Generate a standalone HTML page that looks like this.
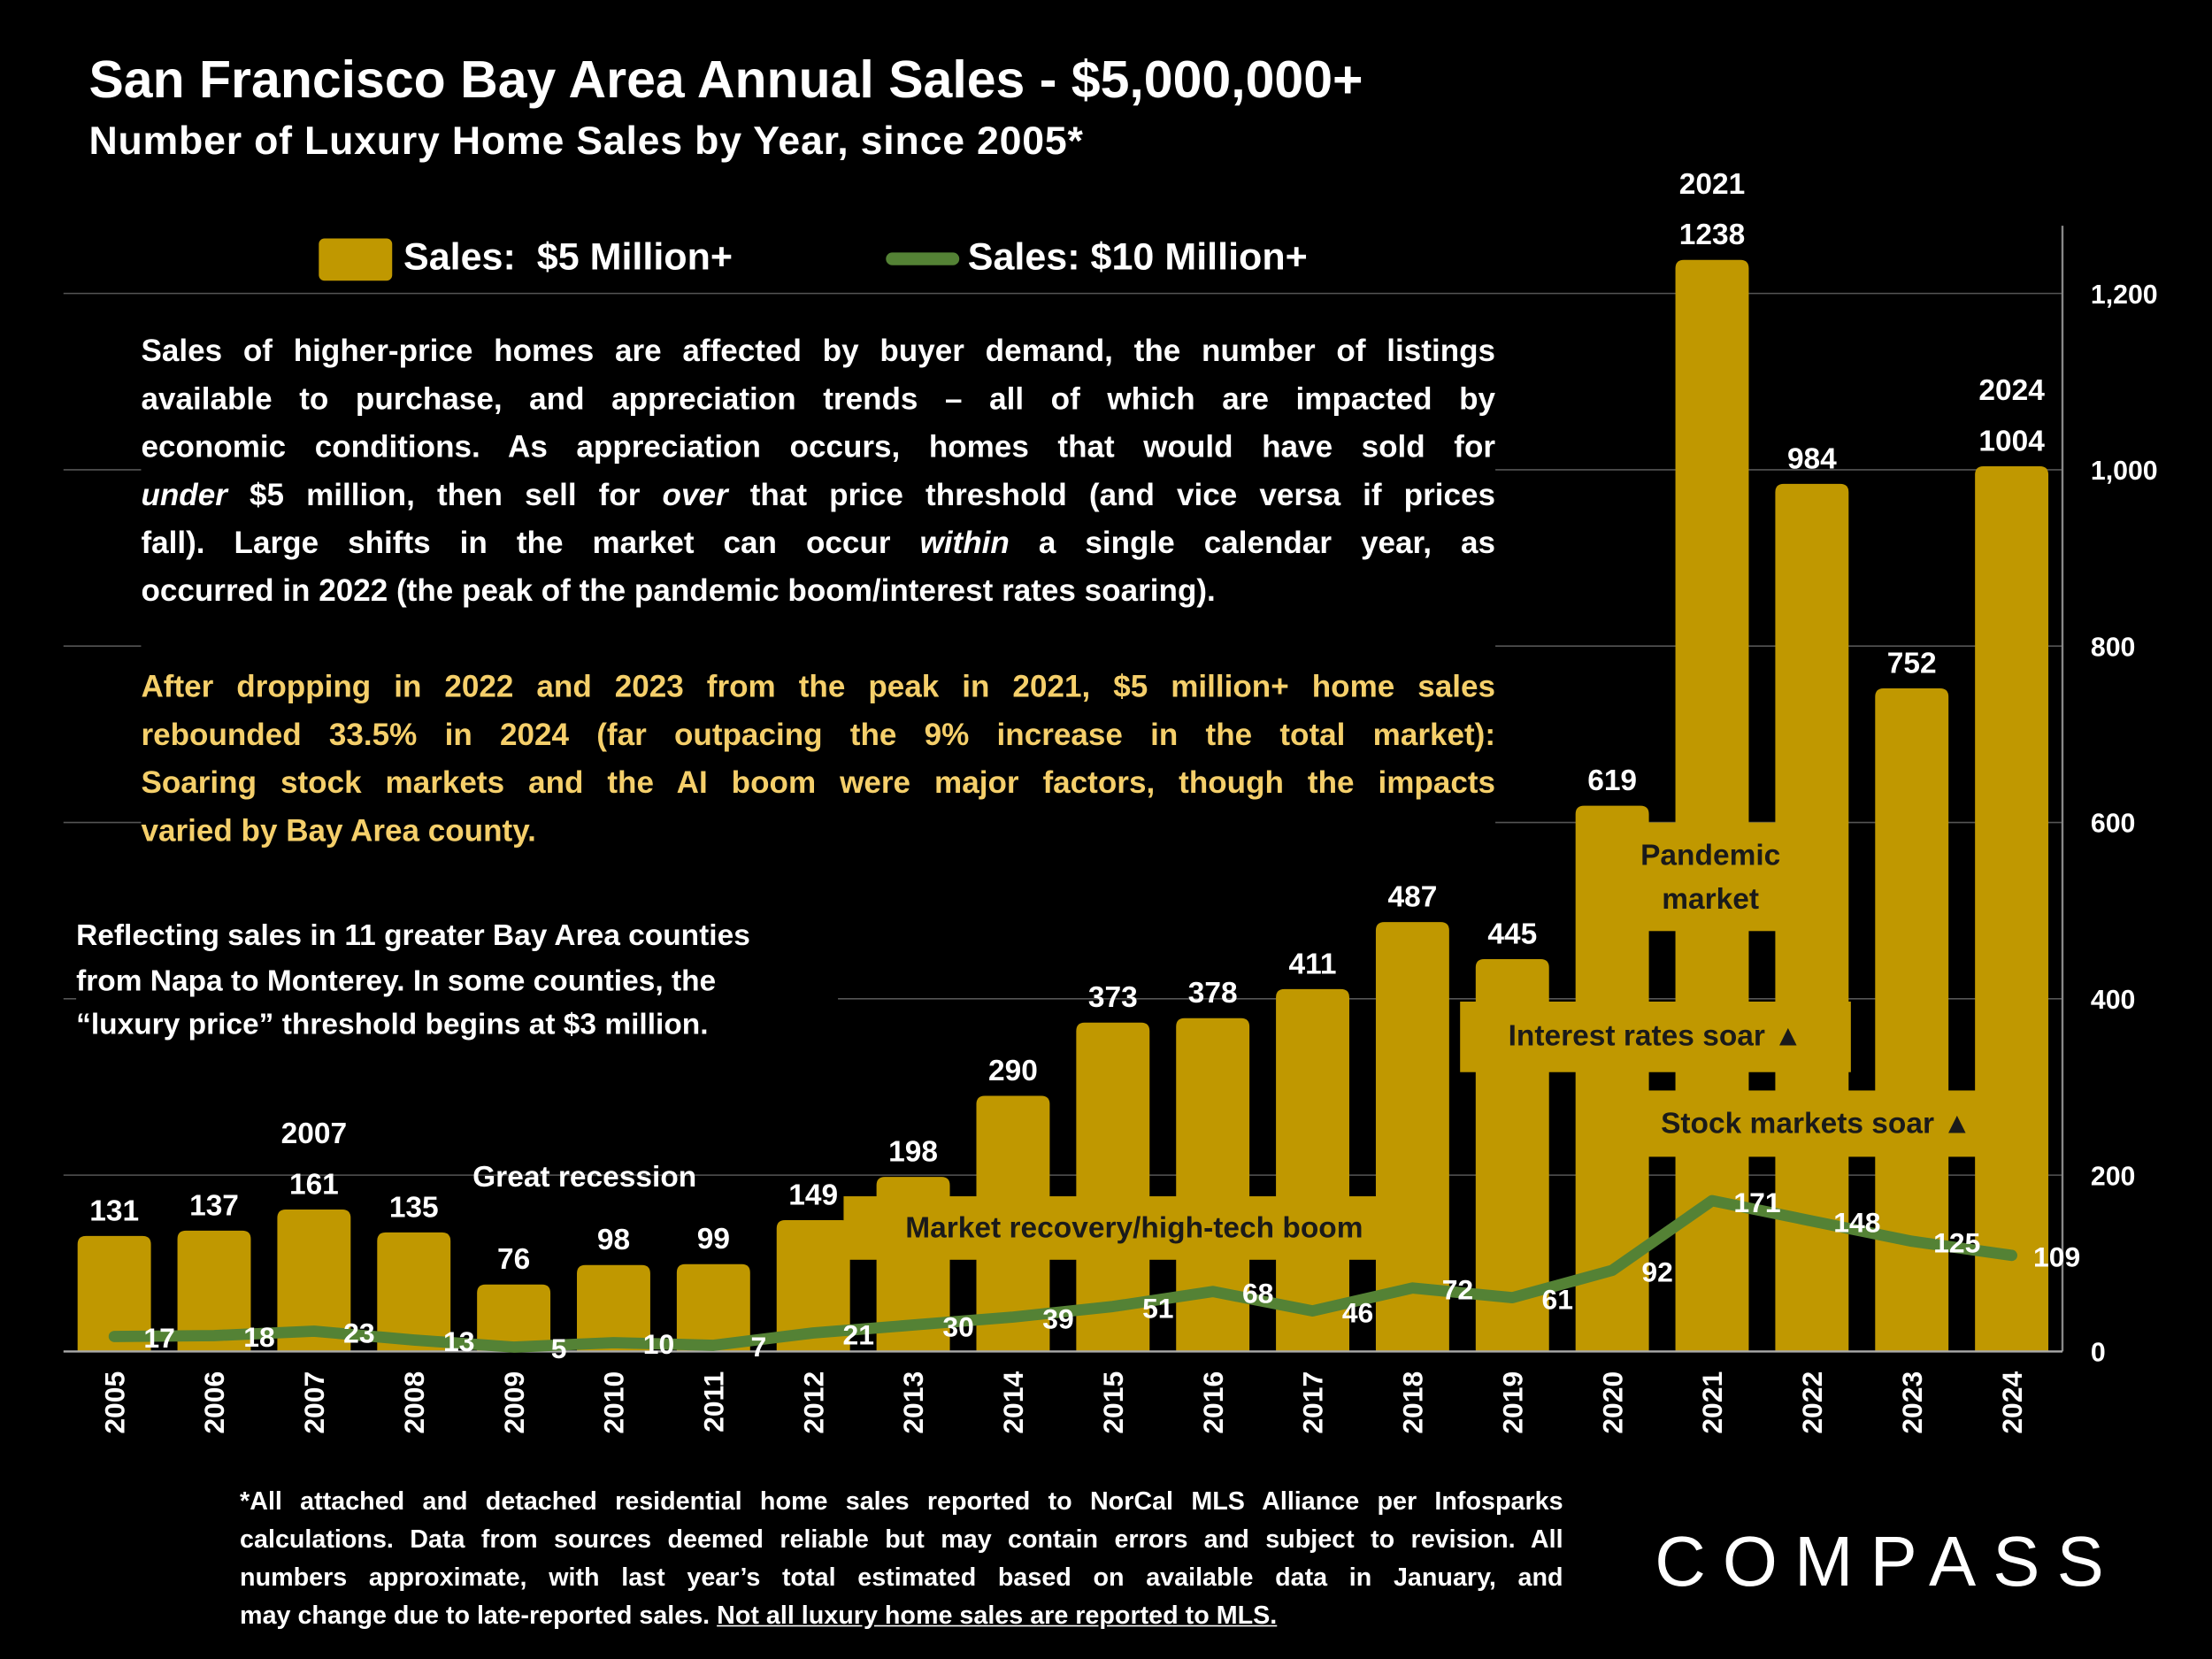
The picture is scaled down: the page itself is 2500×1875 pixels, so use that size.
<!DOCTYPE html>
<html><head><meta charset="utf-8"><style>
html,body{margin:0;padding:0;background:#000;overflow:hidden}
#wrap{position:absolute;left:0;top:0;width:1568px;height:1176px;transform:scale(1.594388);transform-origin:0 0;font-family:"Liberation Sans",sans-serif;color:#fff}
.t{position:absolute;font-weight:bold;white-space:nowrap}
.para{position:absolute;left:100px;width:960px;font-size:22px;line-height:34px;font-weight:bold;background:#000}
.para div,.fn div{text-align:justify;text-align-last:justify;white-space:nowrap;overflow:hidden}
.para div.l,.fn div.l{text-align-last:left}
.fn{position:absolute;left:170px;top:1051px;width:938px;font-size:18px;line-height:27px;font-weight:bold}
.box{position:absolute;background:#C09800;color:#1a1a1a;font-weight:bold;font-size:21px;text-align:center}
</style></head><body>
<div id="wrap">
<svg id="chart" width="1568" height="1176" style="position:absolute;left:0;top:0"></svg>
<div class="t" style="left:63px;top:36px;font-size:37px">San Francisco Bay Area Annual Sales - $5,000,000+</div>
<div class="t" style="left:63px;top:84px;font-size:28px;letter-spacing:0.5px">Number of Luxury Home Sales by Year, since 2005*</div>
<div>
<div style="position:absolute;left:226px;top:169px;width:52px;height:30px;background:#C09800;border-radius:4px"></div>
<div class="t" style="left:286px;top:167px;font-size:27px">Sales:&nbsp; $5 Million+</div>
<div style="position:absolute;left:628px;top:179px;width:52px;height:9px;background:#548235;border-radius:5px"></div>
<div class="t" style="left:686px;top:167px;font-size:27px">Sales: $10 Million+</div>
</div>
<div class="para" style="top:232px;height:374px">
<div>Sales of higher-price homes are affected by buyer demand, the number of listings</div>
<div>available to purchase, and appreciation trends – all of which are impacted by</div>
<div>economic conditions. As appreciation occurs, homes that would have sold for</div>
<div><i>under</i> $5 million, then sell for <i>over</i> that price threshold (and vice versa if prices</div>
<div>fall). Large shifts in the market can occur <i>within</i> a single calendar year, as</div>
<div class="l">occurred in 2022 (the peak of the pandemic boom/interest rates soaring).</div>
<div style="height:34px"></div>
<div style="color:#F5CF6A">After dropping in 2022 and 2023 from the peak in 2021, $5 million+ home sales</div>
<div style="color:#F5CF6A">rebounded 33.5% in 2024 (far outpacing the 9% increase in the total market):</div>
<div style="color:#F5CF6A">Soaring stock markets and the AI boom were major factors, though the impacts</div>
<div class="l" style="color:#F5CF6A">varied by Bay Area county.</div>
</div>
<div style="position:absolute;left:54px;top:648px;width:540px;font-size:21px;line-height:31.5px;font-weight:bold;background:#000">Reflecting sales in 11 greater Bay Area counties<br>from Napa to Monterey. In some counties, the<br>“luxury price” threshold begins at $3 million.</div>
<div class="box" style="left:598px;top:848px;width:412px;height:45px;line-height:45px">Market recovery/high-tech boom</div>
<div class="box" style="left:1135px;top:583px;width:155px;height:77px;line-height:31px;padding-top:8px;box-sizing:border-box">Pandemic<br>market</div>
<div class="box" style="left:1035px;top:710px;width:277px;height:50px;line-height:50px">Interest rates soar ▲</div>
<div class="box" style="left:1160px;top:773px;width:255px;height:47px;line-height:47px">Stock markets soar ▲</div>
<div class="t" style="left:335px;top:823px;font-size:21px">Great recession</div>
<div class="fn">
<div>*All attached and detached residential home sales reported to NorCal MLS Alliance per Infosparks</div>
<div>calculations. Data from sources deemed reliable but may contain errors and subject to revision. All</div>
<div>numbers approximate, with last year’s total estimated based on available data in January, and</div>
<div class="l">may change due to late-reported sales. <u>Not all luxury home sales are reported to MLS.</u></div>
</div>
<div class="t" style="left:1173px;top:1078px;font-size:50px;font-weight:normal;letter-spacing:12px">COMPASS</div>
</div>
<script>
const years=["2005","2006","2007","2008","2009","2010","2011","2012","2013","2014","2015","2016","2017","2018","2019","2020","2021","2022","2023","2024"];
const sales5m=[131,137,161,135,76,98,99,149,198,290,373,378,411,487,445,619,1238,984,752,1004];
const sales10m=[17,18,23,13,5,10,7,21,30,39,51,68,46,72,61,92,171,148,125,109];
const yTicks=[0,200,400,600,800,1000,1200];
const yTickLabels=["0","200","400","600","800","1,000","1,200"];
const NS="http://www.w3.org/2000/svg";
const svg=document.getElementById('chart');
const y0=958,pxPer=0.625,x0=81,step=(1426-81)/19,bw=52;
const yS=v=>y0-v*pxPer, xS=i=>x0+i*step;
function mk(tag,attrs){const e=document.createElementNS(NS,tag);for(const k in attrs)e.setAttribute(k,attrs[k]);svg.appendChild(e);return e;}
yTicks.forEach((v,i)=>{
 if(v>0){const g=mk('line',{x1:45,x2:1462,y1:yS(v),y2:yS(v),stroke:'#555','stroke-width':1});
 
 }
 const t=mk('text',{x:1482,y:yS(v)+7,fill:'#fff','font-size':19,'font-weight':'bold','font-family':'Liberation Sans'});
 t.textContent=yTickLabels[i];
 
 
});
const ax=mk('line',{x1:1462,x2:1462,y1:160,y2:y0,stroke:'#888','stroke-width':1.5});


years.forEach((yr,i)=>{
 const x=xS(i),top=yS(sales5m[i]);
 const r=6;
 const p=mk('path',{d:`M${x-bw/2},${y0}V${top+r}Q${x-bw/2},${top} ${x-bw/2+r},${top}H${x+bw/2-r}Q${x+bw/2},${top} ${x+bw/2},${top+r}V${y0}Z`,fill:'#C09800'});
 
 
});
const xa=mk('line',{x1:45,x2:1462,y1:y0,y2:y0,stroke:'#aaa','stroke-width':1.5});


const pl=mk('polyline',{points:sales10m.map((v,i)=>xS(i)+','+yS(v)).join(' '),fill:'none',stroke:'#548235','stroke-width':8,'stroke-linejoin':'round','stroke-linecap':'round'});


years.forEach((yr,i)=>{
 const x=xS(i);
 const t=mk('text',{x:x,y:yS(sales5m[i])-11,fill:'#fff','font-size':21,'font-weight':'bold','text-anchor':'middle','font-family':'Liberation Sans'});
 t.textContent=sales5m[i];
 
 
 const l=mk('text',{x:x+32,y:yS(sales10m[i])+8,fill:'#fff','font-size':20,'font-weight':'bold','text-anchor':'middle','font-family':'Liberation Sans'});
 l.textContent=sales10m[i];
 
 
 const xl=mk('text',{x:0,y:0,fill:'#fff','font-size':20,'font-weight':'bold','text-anchor':'end','font-family':'Liberation Sans',transform:`translate(${x+7},${y0+14}) rotate(-90)`});
 xl.textContent=yr;
 
 
});
[[2,'2007'],[16,'2021'],[19,'2024']].forEach(([i,s])=>{
 const t=mk('text',{x:xS(i),y:yS(sales5m[i])-47,fill:'#fff','font-size':21,'font-weight':'bold','text-anchor':'middle','font-family':'Liberation Sans'});
 t.textContent=s;
 
 
});
</script>
</body></html>
